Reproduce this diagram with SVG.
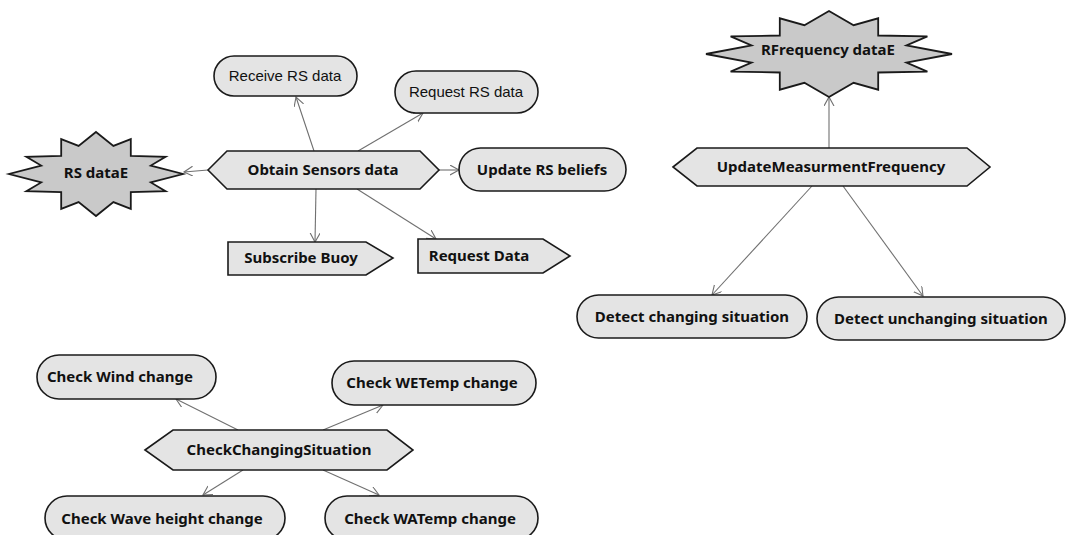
<svg xmlns="http://www.w3.org/2000/svg" width="1068" height="535" viewBox="0 0 1068 535">
<defs>
<style>
.bg{fill:#ffffff}
.st{fill:#e4e4e4;stroke:#1a1a1a;stroke-width:1.6}
.star{fill:#c9c9c9;stroke:#1a1a1a;stroke-width:1.8;stroke-linejoin:miter}
.t{font-family:"Noto Sans","Open Sans",sans-serif;font-weight:bold;font-size:15px;fill:#111;text-anchor:middle}
.a{font-family:"Liberation Sans",Arial,sans-serif;font-size:15px;fill:#111;text-anchor:middle}
.c{stroke:#707070;stroke-width:1.1;fill:none;marker-end:url(#arr)}
</style>
<marker id="arr" markerWidth="12" markerHeight="12" refX="9" refY="5" orient="auto" markerUnits="userSpaceOnUse">
<path d="M0,0 L9,5 L0,10" fill="none" stroke="#707070" stroke-width="1.1"/>
</marker>
</defs>
<rect class="bg" x="0" y="0" width="1068" height="535"/>

<g id="connectors">
<line class="c" x1="208" y1="170" x2="184" y2="172"/>
<line class="c" x1="314" y1="151" x2="296" y2="97"/>
<line class="c" x1="358" y1="151" x2="423" y2="113"/>
<line class="c" x1="439" y1="170" x2="459" y2="170"/>
<line class="c" x1="316" y1="189" x2="315" y2="242"/>
<line class="c" x1="357" y1="189" x2="436" y2="239"/>
<line class="c" x1="829" y1="148" x2="829" y2="97"/>
<line class="c" x1="812" y1="186" x2="712" y2="295"/>
<line class="c" x1="843" y1="186" x2="923" y2="296"/>
<line class="c" x1="238" y1="430" x2="176" y2="399"/>
<line class="c" x1="323" y1="430" x2="383" y2="405"/>
<line class="c" x1="243" y1="470" x2="203" y2="495"/>
<line class="c" x1="323" y1="470" x2="379" y2="495"/>
</g>

<g id="rs-dataE">
<polygon class="star" points="96,132 113.4,145.9 130.8,139.1 130.8,155.9 165.6,156.8 150.8,165.6 183,174 150.8,182.4 165.6,191.2 130.8,192.1 130.8,208.9 113.4,202.1 96,216 78.6,202.1 61.2,208.9 61.2,192.1 26.4,191.2 41.2,182.4 9,174 41.2,165.6 26.4,156.8 61.2,155.9 61.2,139.1 78.6,145.9"/>
<text class="t" x="96" y="178">RS dataE</text>
</g>

<g id="obtain-sensors-data">
<polygon class="st" points="208,170 227,151 420,151 439,170 420,189 227,189"/>
<text class="t" x="323" y="175">Obtain Sensors data</text>
</g>

<g id="receive-rs-data">
<rect class="st" x="214" y="56" width="143" height="40" rx="20"/>
<text class="a" x="285" y="81">Receive RS data</text>
</g>

<g id="request-rs-data">
<rect class="st" x="395" y="71" width="143" height="42" rx="21"/>
<text class="a" x="466" y="97">Request RS data</text>
</g>

<g id="update-rs-beliefs">
<rect class="st" x="459" y="148" width="167" height="43" rx="21.5"/>
<text class="t" x="542" y="175">Update RS beliefs</text>
</g>

<g id="subscribe-buoy">
<polygon class="st" points="228,242 366,242 393,258 366,275 228,275"/>
<text class="t" x="301" y="263">Subscribe Buoy</text>
</g>

<g id="request-data">
<polygon class="st" points="418,239 543,239 570,256 543,273 418,273"/>
<text class="t" x="479" y="261">Request Data</text>
</g>

<g id="rfrequency-dataE">
<polygon class="star" points="829,11 853.6,25.2 878.2,18.3 878.2,35.5 927.4,36.4 906.5,45.4 952,54 906.5,62.6 927.4,71.6 878.2,72.5 878.2,89.7 853.6,82.8 829,97 804.4,82.8 779.8,89.7 779.8,72.5 730.6,71.6 751.5,62.6 706,54 751.5,45.4 730.6,36.4 779.8,35.5 779.8,18.3 804.4,25.2"/>
<text class="t" x="828" y="55">RFrequency dataE</text>
</g>

<g id="update-measurment-frequency">
<polygon class="st" points="673,167 697,148 967,148 990,167 967,186 697,186"/>
<text class="t" x="831" y="172">UpdateMeasurmentFrequency</text>
</g>

<g id="detect-changing-situation">
<rect class="st" x="577" y="295" width="230" height="43" rx="21.5"/>
<text class="t" x="692" y="322">Detect changing situation</text>
</g>

<g id="detect-unchanging-situation">
<rect class="st" x="817" y="297" width="248" height="43" rx="21.5"/>
<text class="t" x="941" y="324">Detect unchanging situation</text>
</g>

<g id="check-wind-change">
<rect class="st" x="37" y="355" width="179" height="44" rx="22"/>
<text class="t" x="120" y="382">Check Wind change</text>
</g>

<g id="check-wetemp-change">
<rect class="st" x="332" y="361" width="204" height="44" rx="22"/>
<text class="t" x="432" y="388">Check WETemp change</text>
</g>

<g id="check-changing-situation">
<polygon class="st" points="145,450 173,430 387,430 413,450 387,470 173,470"/>
<text class="t" x="279" y="455">CheckChangingSituation</text>
</g>

<g id="check-wave-height-change">
<rect class="st" x="45" y="496" width="240" height="44" rx="22"/>
<text class="t" x="162" y="524">Check Wave height change</text>
</g>

<g id="check-watemp-change">
<rect class="st" x="325" y="496" width="213" height="44" rx="22"/>
<text class="t" x="430" y="524">Check WATemp change</text>
</g>
</svg>
